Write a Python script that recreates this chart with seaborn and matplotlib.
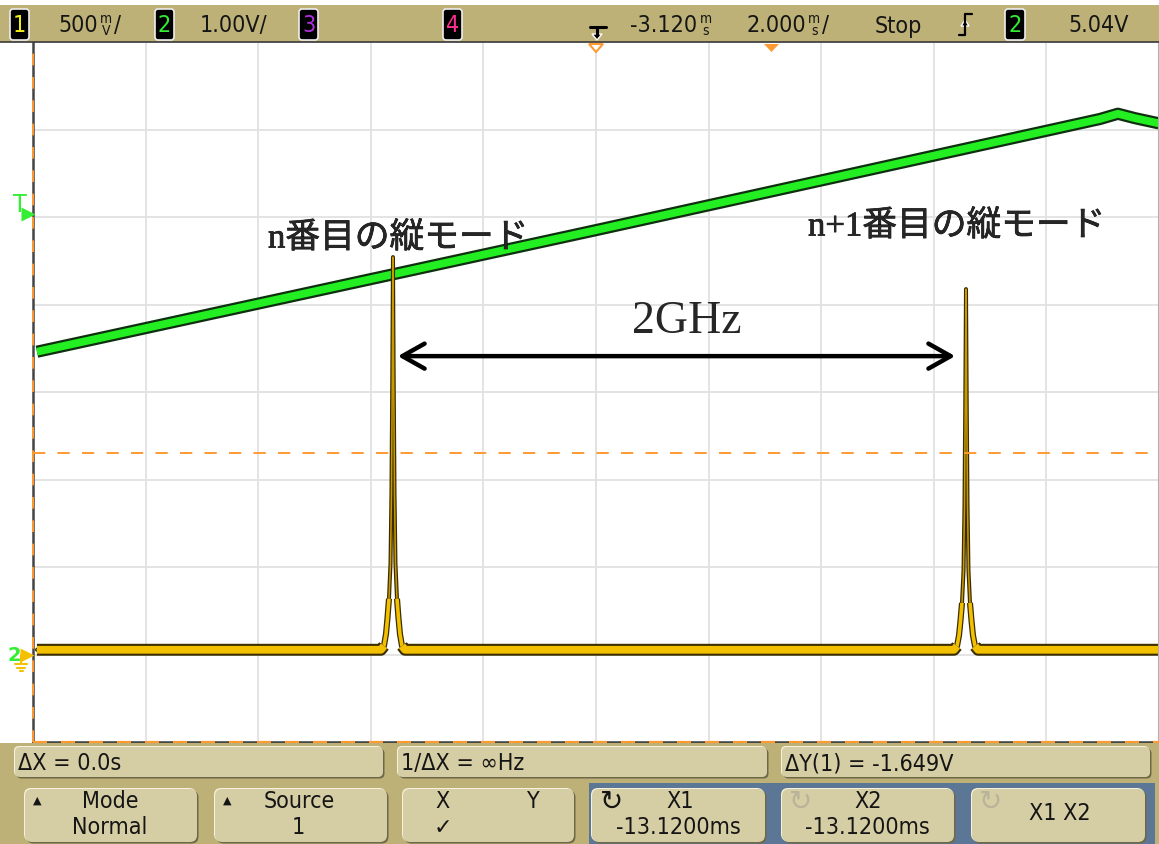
import os
import numpy as np
import pandas as pd
import matplotlib
matplotlib.use("Agg")
import matplotlib.pyplot as plt
import matplotlib.patheffects as pe
from matplotlib.patches import FancyBboxPatch, Rectangle, Polygon
from matplotlib.lines import Line2D
from matplotlib.transforms import Affine2D
from matplotlib.ticker import MultipleLocator
from matplotlib.font_manager import FontProperties
from matplotlib.textpath import TextPath
from matplotlib import font_manager
import seaborn as sns

# ---------------- scope settings ----------------
time_center_ms = -3.12
time_per_div_ms = 2.0
ch1_volts_per_div = 0.5
ch1_offset_v = 1.5
ch2_volts_per_div = 1.0
ch2_offset_v = 3.0
trig_level_v = 5.04
cursor_x1_ms = -13.12
cursor_x2_ms = -13.12
cursor_y1_v = 1.149
cursor_y2_v = -0.500

# ---------------- channel 2: piezo sweep ramp ----------------
ch2_time_ms = [-13.05, -3.12, 5.83, 6.15, 6.45, 6.88]
ch2_volts = [3.46, 4.85, 6.12, 6.18, 6.13, 6.07]

# ---------------- channel 1: transmitted intensity ----------------
ch1_time_ms = [-13.05,
               -6.939, -6.886, -6.850, -6.824, -6.797, -6.770, -6.753, -6.738, -6.726,
               -6.714, -6.699, -6.682, -6.655, -6.628, -6.602, -6.566, -6.513,
               3.239, 3.292, 3.328, 3.354, 3.381, 3.408, 3.425, 3.440, 3.452,
               3.464, 3.479, 3.496, 3.523, 3.550, 3.576, 3.612, 3.665,
               6.88]
ch1_volts = [0.027,
             0.027, 0.049, 0.117, 0.207, 0.319, 0.521, 0.925, 1.598, 2.271,
             1.598, 0.925, 0.521, 0.319, 0.207, 0.117, 0.049, 0.027,
             0.027, 0.048, 0.109, 0.192, 0.295, 0.480, 0.851, 1.470, 2.088,
             1.470, 0.851, 0.480, 0.295, 0.192, 0.109, 0.048, 0.027,
             0.027]

mode_labels = ["n番目の縦モード", "n+1番目の縦モード"]
spacing_label = "2GHz"
arrow_from_ms = -6.64
arrow_to_ms = 3.26
arrow_level_div = 0.41

# ---------------- fonts ----------------
sns.set_theme(style="white")


def find_condensed():
    prefs = ["liberationsansnarrow-regular", "dejavusanscondensed.", "robotocondensed-regular",
             "notosans-condensed.", "notosans-condensed-regular", "opensans-condensedregular",
             "opensans_condensed-regular"]
    files = {os.path.basename(f.fname).lower(): f.fname for f in font_manager.fontManager.ttflist}
    for p in prefs:
        for b, path in files.items():
            if b.startswith(p):
                return path
    for b, path in files.items():
        if ("narrow" in b or "condensed" in b) and "sans" in b and not any(
                k in b for k in ("bold", "light", "thin", "black", "medium", "semi", "extra", "ultra", "italic", "oblique", "mono")):
            return path
    return None


cond_path = find_condensed()
if cond_path:
    base_fp = FontProperties(fname=cond_path)
else:
    base_fp = FontProperties(family="Liberation Sans")

# size so that three digits are ~37 px wide and no taller than ~20 px
_w = TextPath((0, 0), "000", prop=base_fp, size=100).get_extents()
size_w = 100 * 37 / (_w.width * 100 / 72)
size_h = 100 * 20 / (_w.height * 100 / 72)
UI_SIZE = min(size_w, size_h)


def ui(size=None):
    fp = base_fp.copy()
    fp.set_size(UI_SIZE if size is None else size)
    return fp


plt.rcParams["font.family"] = ["DejaVu Sans"]
jp_font = ["Liberation Serif", "Noto Sans CJK JP"]

# ---------------- colours ----------------
TAN = "#BDB178"
KEY = "#D5CDA3"
BLUE = "#5B7795"
ORANGE = "#FF9A33"
GRID = "#E2E2E2"
INK = "#151515"

W, H = 1159, 845
fig = plt.figure(figsize=(W / 100, H / 100), dpi=100)
fig.patch.set_facecolor("white")
# pixel coordinates measured from the top-left corner
px = Affine2D().scale(1 / 100, -1 / 100).translate(0, H / 100) + fig.dpi_scale_trans
renderer = fig.canvas.get_renderer()

ax = fig.add_axes([33 / W, (H - 743) / H, (W - 33) / W, 700 / H])
ax.set_facecolor("white")


def t_div(t):
    return (np.asarray(t, float) - time_center_ms) / time_per_div_ms


def v1_div(v):
    return (np.asarray(v, float) - ch1_offset_v) / ch1_volts_per_div


def v2_div(v):
    return (np.asarray(v, float) - ch2_offset_v) / ch2_volts_per_div


# ---------------- graticule ----------------
ax.set_xlim(-5, 5)
ax.set_ylim(-4, 4)
for axis in (ax.xaxis, ax.yaxis):
    axis.set_major_locator(MultipleLocator(1))
    axis.set_minor_locator(MultipleLocator(0.2))
ax.grid(which="major", color=GRID, linewidth=1.3)
ax.spines["left"].set_position(("data", 0))
ax.spines["bottom"].set_position(("data", 0))
for s in ("left", "bottom"):
    ax.spines[s].set_color(GRID)
    ax.spines[s].set_linewidth(1.3)
for s in ("top", "right"):
    ax.spines[s].set_visible(False)
ax.tick_params(which="major", length=0, labelleft=False, labelbottom=False)
ax.tick_params(which="minor", length=6, width=1.1, color="#D4D4D4", direction="inout")
ax.set_xlabel("")
ax.set_ylabel("")

# frame edges
ax.add_line(Line2D([0, 0], [0, 1], transform=ax.transAxes, color="#444444", lw=1.8, clip_on=False, zorder=6))
ax.add_line(Line2D([1, 1], [0, 1], transform=ax.transAxes, color="#B0B0B0", lw=1.5, clip_on=False, zorder=6))
ax.add_line(Line2D([0, 1], [0, 0], transform=ax.transAxes, color="#444444", lw=1.8, clip_on=False, zorder=6))

# ---------------- traces ----------------
df2 = pd.DataFrame({"t": t_div(ch2_time_ms), "v": v2_div(ch2_volts)})
sns.lineplot(data=df2, x="t", y="v", ax=ax, sort=False, estimator=None, color="#22EE22",
             linewidth=5.6, solid_capstyle="butt", legend=False, zorder=3,
             path_effects=[pe.Stroke(linewidth=8.8, foreground="#0E300E"), pe.Normal()])

df1 = pd.DataFrame({"t": t_div(ch1_time_ms), "v": v1_div(ch1_volts)})
sns.lineplot(data=df1, x="t", y="v", ax=ax, sort=False, estimator=None, color="#C99A00",
             linewidth=1.1, legend=False, zorder=4,
             path_effects=[pe.Stroke(linewidth=2.9, foreground="#3A2C00"), pe.Normal()])


def band(limit, width, outline, z):
    keep = np.asarray(ch1_volts) < limit
    seg = np.cumsum(~keep)
    part = df1[keep].assign(seg=seg[keep])
    sns.lineplot(data=part, x="t", y="v", units="seg", ax=ax, sort=False, estimator=None,
                 color="#F3C000", linewidth=width, solid_capstyle="butt", solid_joinstyle="round",
                 legend=False, zorder=z,
                 path_effects=[pe.Stroke(linewidth=outline, foreground="#3A2D00"), pe.Normal()])


# noise envelope: wide on the baseline, narrowing up the flanks of each mode
band(0.33, 2.6, 4.4, 4.5)
band(0.06, 5.6, 8.6, 5)

# ---------------- cursors ----------------
ax.axvline(t_div(cursor_x1_ms), color=ORANGE, lw=1.4, dashes=(6, 6), clip_on=False, zorder=7)
ax.axhline(v1_div(cursor_y1_v), color=ORANGE, lw=1.4, dashes=(6.3, 6.3), clip_on=False, zorder=7)
ax.axhline(v1_div(cursor_y2_v), color=ORANGE, lw=1.6, dashes=(6.3, 6.3), clip_on=False, zorder=7)

# ---------------- annotations ----------------
ax.annotate("", xy=(t_div(arrow_to_ms), arrow_level_div), xytext=(t_div(arrow_from_ms), arrow_level_div),
            arrowprops=dict(arrowstyle="<->,head_length=0.8,head_width=0.45", lw=3.2, color="black",
                            mutation_scale=20, shrinkA=0, shrinkB=0), zorder=8)
thick = [pe.withStroke(linewidth=0.45, foreground="black")]
fig.text(268, 240, mode_labels[0], transform=px, fontsize=25, family=jp_font, ha="left", va="center",
         path_effects=thick)
fig.text(808, 228, mode_labels[1], transform=px, fontsize=25, family=jp_font, ha="left", va="center",
         path_effects=thick)
fig.text(632, 322, spacing_label, transform=px, fontsize=33, family=["Liberation Serif"], ha="left",
         va="center")

# ---------------- left-edge markers ----------------
trig_div = float(v2_div(trig_level_v))
gnd_div = float(v1_div(0.0))
ax.plot([-5.04], [trig_div], marker=">", ms=10, color="#33EE33", mec="none", clip_on=False, zorder=9)
ax.text(-5.115, trig_div + 0.11, "T", color="#33EE33", fontproperties=ui(18), ha="center", va="center",
        clip_on=False)
ax.plot([-5.05], [gnd_div], marker=">", ms=10, color="#F5C000", mec="none", clip_on=False, zorder=9)
ax.text(-5.17, gnd_div, "2", color="#33EE33", fontsize=14, fontweight="bold", ha="center", va="center",
        clip_on=False)
fig.add_artist(Line2D([21, 21], [656, 664], transform=px, color="#F5C000", lw=1.5))
for k, (x0, x1) in enumerate([(15, 27), (17, 25), (19.5, 22.5)]):
    yy = 665 + 3.5 * k
    fig.add_artist(Line2D([x0, x1], [yy, yy], transform=px, color="#F5C000", lw=1.5))

# ---------------- top status bar ----------------
fig.add_artist(Rectangle((0, 6), W, 37, transform=px, facecolor=TAN, edgecolor="none"))
fig.add_artist(Line2D([0, W], [43, 43], transform=px, color="#3A3A3A", lw=1.2))


def chan_box(x0, label, color, w=19):
    fig.add_artist(FancyBboxPatch((x0, 10), w, 31, boxstyle="round,pad=0,rounding_size=3", transform=px,
                                  facecolor="black", edgecolor="#EDEDED", lw=1.2))
    fig.text(x0 + w / 2, 26, label, transform=px, color=color, fontproperties=ui(), ha="center", va="center")


def bar_run(x, parts):
    """Lay out a run of status text; tuples are drawn as small stacked unit glyphs."""
    for part in parts:
        if isinstance(part, tuple):
            t = fig.text(x + 1, 25, "\n".join(part), transform=px, fontproperties=ui(UI_SIZE * 0.6),
                         ha="left", va="center", multialignment="center", linespacing=0.82, color=INK)
            x = t.get_window_extent(renderer).x1 + 1.5
        else:
            t = fig.text(x, 26, part, transform=px, fontproperties=ui(), ha="left", va="center", color=INK)
            x = t.get_window_extent(renderer).x1 + 1.5


chan_box(10, "1", "#F2EE1A")
bar_run(58, [f"{ch1_volts_per_div * 1000:.0f}", ("m", "V"), "/"])
chan_box(155, "2", "#33EE33")
bar_run(200, [f"{ch2_volts_per_div:.2f}V/"])
chan_box(299, "3", "#B030E0")
chan_box(443, "4", "#FF2F8F")

# trigger-delay glyph
fig.add_artist(Line2D([590, 606], [28, 28], transform=px, color="black", lw=2.2))
fig.add_artist(Line2D([597, 597], [28, 36], transform=px, color="black", lw=2.2))
fig.add_artist(Polygon([[592, 35], [602, 35], [597, 41]], closed=True, transform=px, facecolor="black"))

bar_run(630, [f"{time_center_ms:.3f}", ("m", "s")])
bar_run(746, [f"{time_per_div_ms:.3f}", ("m", "s"), "/"])
bar_run(875, ["Stop"])

# rising-edge trigger glyph
fig.add_artist(Line2D([959, 965, 965, 972], [36, 36, 15, 15], transform=px, color="black", lw=1.6))
fig.add_artist(Polygon([[961, 27], [969, 27], [965, 21]], closed=True, transform=px, facecolor="black"))

chan_box(1005, "2", "#33EE33", w=20)
bar_run(1068, [f"{trig_level_v:.2f}V"])

# trigger position markers under the bar
fig.add_artist(Polygon([[589, 45], [603, 45], [596, 53]], closed=True, transform=px,
                       facecolor="white", edgecolor=ORANGE, lw=1.5))
fig.add_artist(Polygon([[764, 45], [779, 45], [771.5, 53]], closed=True, transform=px,
                       facecolor=ORANGE, edgecolor="none"))

# ---------------- bottom softkey panel ----------------
fig.add_artist(Rectangle((0, 744), W, 101, transform=px, facecolor=TAN, edgecolor="none"))
fig.add_artist(Rectangle((589, 784), 566, 61, transform=px, facecolor=BLUE, edgecolor="none"))


def bevel(x0, y0, w, h, r=6):
    fig.add_artist(FancyBboxPatch((x0 + 1.5, y0 + 1.5), w, h, boxstyle=f"round,pad=0,rounding_size={r}",
                                  transform=px, facecolor="#6F6848", edgecolor="none"))
    fig.add_artist(FancyBboxPatch((x0 - 1, y0 - 1), w, h, boxstyle=f"round,pad=0,rounding_size={r}",
                                  transform=px, facecolor="#F6F2DF", edgecolor="none"))
    fig.add_artist(FancyBboxPatch((x0, y0), w, h, boxstyle=f"round,pad=0,rounding_size={r}",
                                  transform=px, facecolor=KEY, edgecolor="none"))


def key_text(x, y, s, ha="center", color=INK):
    fig.text(x, y, s, transform=px, fontproperties=ui(), ha=ha, va="center", color=color)


def sym_text(x, y, s, size, color=INK):
    fig.text(x, y, s, transform=px, fontsize=size, family=["DejaVu Sans"], ha="center", va="center", color=color)


for (x0, w) in [(15, 368), (398, 369), (782, 368)]:
    bevel(x0, 748, w, 30, r=5)

dx = cursor_x2_ms - cursor_x1_ms
dy = cursor_y2_v - cursor_y1_v
key_text(18, 764, f"ΔX = {dx:.1f}s", ha="left")
key_text(401, 764, "1/ΔX = ∞Hz" if dx == 0 else f"1/ΔX = {1000 / dx:.1f}Hz", ha="left")
key_text(785, 764, f"ΔY(1) = {dy:.3f}V", ha="left")

for (x0, w) in [(25, 172), (215, 172), (403, 171), (592, 173), (782, 172), (972, 173)]:
    bevel(x0, 790, w, 53, r=7)

sym_text(37, 801, "▲", 8)
key_text(110, 801, "Mode")
key_text(110, 827, "Normal")
sym_text(227, 801, "▲", 8)
key_text(299, 801, "Source")
key_text(298, 827, "1")
key_text(443, 801, "X")
key_text(533, 801, "Y")
sym_text(443, 828, "✓", 16)

sym_text(612, 802, "↻", 20)
key_text(680, 801, "X1")
key_text(678, 827, f"{cursor_x1_ms:.4f}ms")
sym_text(801, 802, "↻", 20, color="#B9B39A")
key_text(868, 801, "X2")
key_text(867, 827, f"{cursor_x2_ms:.4f}ms")
sym_text(991, 802, "↻", 20, color="#B9B39A")
key_text(1060, 814, "X1 X2")

fig.savefig("out.png", dpi=100, facecolor="white")
